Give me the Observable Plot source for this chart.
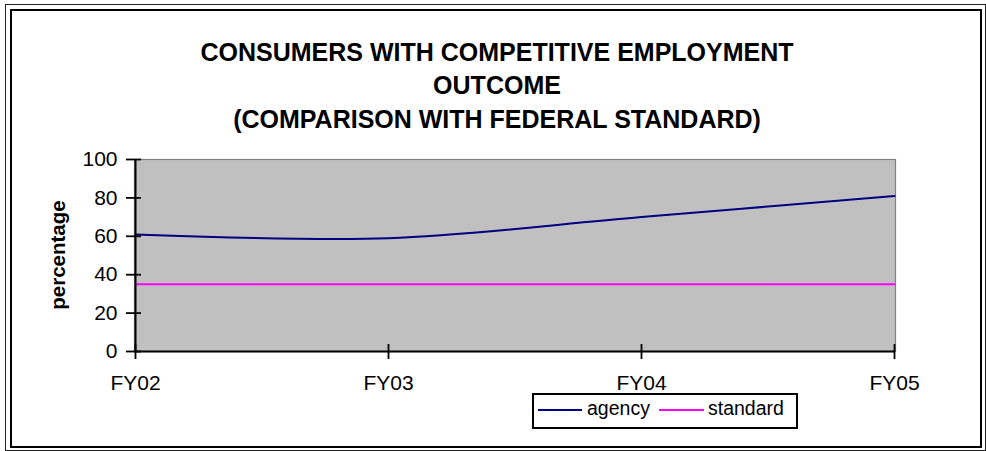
<!DOCTYPE html>
<html>
<head>
<meta charset="utf-8">
<script src="https://cdn.jsdelivr.net/npm/d3@7"></script>
<script src="https://cdn.jsdelivr.net/npm/@observablehq/plot@0.6"></script>
<style>
  body { margin: 0; background: #fff; font-family: "Liberation Sans", Arial, sans-serif; }
  #wrap { position: relative; width: 986px; height: 451px; overflow: hidden; background: #fff; }
  #chart { position: absolute; left: 0; top: 0; }
  .b { position: absolute; box-sizing: border-box; }
  #outer { left: 4.5px; top: 3.5px; width: 981px; height: 447px; border: 1.5px solid #222; }
  #inner { left: 10px; top: 9px; width: 972px; height: 439px; border: 2.5px solid #000; }
  #title { position: absolute; left: 0; top: 35.5px; width: 994px; text-align: center; font-weight: bold;
           font-size: 25px; line-height: 33.5px; white-space: nowrap; color: #000; }
  #ylabel { position: absolute; left: 58px; top: 255px; transform: translate(-50%, -50%) rotate(-90deg);
            font-weight: bold; font-size: 20.5px; white-space: nowrap; color: #000; }
  #legend { position: absolute; left: 532px; top: 393px; width: 266px; height: 36px; box-sizing: border-box;
            border: 2px solid #000; background: #fff; }
  #legend .sw { position: absolute; height: 2px; top: 14px; }
  #legend .lt { position: absolute; top: -2px; line-height: 30px; font-size: 19.5px; white-space: nowrap; color: #000; }
</style>
</head>
<body>
<div id="wrap">
  <div id="chart"></div>
  <div class="b" id="outer"></div>
  <div class="b" id="inner"></div>
  <div id="title">CONSUMERS WITH COMPETITIVE EMPLOYMENT<br>OUTCOME<br>(COMPARISON WITH FEDERAL STANDARD)</div>
  <div id="ylabel">percentage</div>
  <div id="legend"></div>
</div>
<script>
const years = ["FY02", "FY03", "FY04", "FY05"];
const agency = [61, 59, 70, 81];
const standard = [35, 35, 35, 35];
const yTicks = [0, 20, 40, 60, 80, 100];
const seriesNames = ["agency", "standard"];
const seriesColors = ["#000080", "#FF00FF"];

const rows = years.flatMap((yr, i) => [
  {year: yr, value: agency[i], series: seriesNames[0]},
  {year: yr, value: standard[i], series: seriesNames[1]}
]);

const font = "Liberation Sans, Arial, sans-serif";
const plot = Plot.plot({
  width: 986,
  height: 451,
  marginLeft: 134,
  marginRight: 91,
  marginTop: 159,
  marginBottom: 100,
  style: {background: "transparent", fontFamily: font, color: "#000", overflow: "visible"},
  x: {type: "point", domain: years, padding: 0, label: null},
  y: {domain: [yTicks[0], yTicks[yTicks.length - 1]], label: null},
  color: {domain: seriesNames, range: seriesColors},
  marks: [
    Plot.frame({fill: "#C0C0C0", stroke: "#808080", strokeWidth: 1.2}),
    Plot.line(rows, {x: "year", y: "value", z: "series", stroke: "series", strokeWidth: 2, curve: "cardinal"}),
    Plot.ruleY([yTicks[0]], {stroke: "#000", strokeWidth: 2}),
    Plot.ruleX([years[0]], {stroke: "#000", strokeWidth: 2}),
    Plot.axisY({ticks: yTicks, tickSize: 15, dx: 7, tickFormat: () => "", strokeWidth: 1.8, stroke: "#000"}),
    Plot.axisY({ticks: yTicks, tickSize: 0, tickPadding: 17, fontSize: 21, fill: "#000"}),
    Plot.axisX({tickSize: 15, dy: -7, tickFormat: () => "", strokeWidth: 1.8, stroke: "#000"}),
    Plot.axisX({tickSize: 0, tickPadding: 24, fontSize: 21, fill: "#000"})
  ]
});
document.getElementById("chart").appendChild(plot);

// legend
const legend = document.getElementById("legend");
const swLeft = [4, 125], swWidth = [44, 45], txtLeft = [53, 174];
seriesNames.forEach((name, i) => {
  const sw = document.createElement("div");
  sw.className = "sw";
  sw.style.left = swLeft[i] + "px";
  sw.style.width = swWidth[i] + "px";
  sw.style.background = seriesColors[i];
  legend.appendChild(sw);
  const t = document.createElement("div");
  t.className = "lt";
  t.style.left = txtLeft[i] + "px";
  t.textContent = name;
  legend.appendChild(t);
});
</script>
</body>
</html>
